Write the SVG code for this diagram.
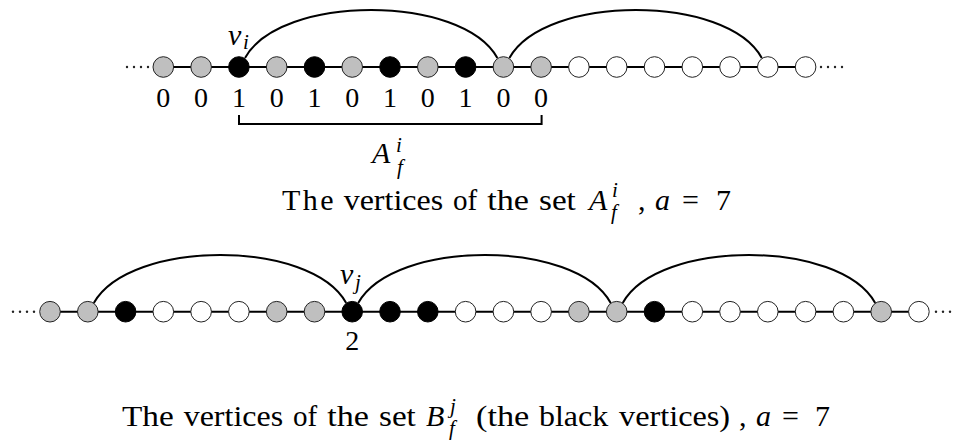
<svg xmlns="http://www.w3.org/2000/svg" width="953" height="441" viewBox="0 0 953 441">
<style>
.g{fill:#bfbfbf;stroke:#222;stroke-width:1}
.b{fill:#000;stroke:#000;stroke-width:1}
.w{fill:#fff;stroke:#222;stroke-width:1}
.edge{stroke:#000;stroke-width:2;fill:none}
.arc{stroke:#000;stroke-width:2;fill:none}
.dot{fill:#222}
text{font-family:"Liberation Serif","DejaVu Serif",serif;fill:#000}
.t{font-size:30px}
.m{font-size:30px;font-style:italic;font-family:"Liberation Serif","DejaVu Serif",serif}
.s{font-size:21px;font-style:italic;font-family:"Liberation Serif","DejaVu Serif",serif}
.d{font-size:28px;text-anchor:middle}
</style>
<rect width="953" height="441" fill="#fff"/>
<g id="connectors">
<line class="edge" x1="163.3" y1="67" x2="805.6" y2="67"/>
<line class="edge" x1="50" y1="311.7" x2="918.9" y2="311.7"/>
<path class="arc" d="M245 58 C280 -6 462 -6 497.4 58"/>
<path class="arc" d="M509.4 58 C545 -6 727 -6 761.8 58"/>
<path class="arc" d="M93.8 303 C130 239 311 239 346.2 303"/>
<path class="arc" d="M358.2 303 C394 239 576 239 610.7 303"/>
<path class="arc" d="M622.7 303 C658 239 840 239 875.2 303"/>
<path class="edge" d="M239 115 V124 H541.6 V115"/>
<g class="dot">
<circle cx="127" cy="67" r="1.2"/><circle cx="134" cy="67" r="1.2"/><circle cx="141" cy="67" r="1.2"/><circle cx="148" cy="67" r="1.2"/>
<circle cx="821" cy="67" r="1.2"/><circle cx="828" cy="67" r="1.2"/><circle cx="835" cy="67" r="1.2"/><circle cx="842" cy="67" r="1.2"/>
<circle cx="13" cy="311.7" r="1.2"/><circle cx="20" cy="311.7" r="1.2"/><circle cx="27" cy="311.7" r="1.2"/><circle cx="34" cy="311.7" r="1.2"/>
<circle cx="936" cy="311.7" r="1.2"/><circle cx="943" cy="311.7" r="1.2"/><circle cx="950" cy="311.7" r="1.2"/>
</g>
</g>
<g id="top-row">
<circle id="t3" class="g" cx="163.3" cy="67" r="10.3"/>
<circle id="t4" class="g" cx="201.1" cy="67" r="10.3"/>
<circle id="t5" class="b" cx="238.9" cy="67" r="10.3"/>
<circle id="t6" class="g" cx="276.7" cy="67" r="10.3"/>
<circle id="t7" class="b" cx="314.5" cy="67" r="10.3"/>
<circle id="t8" class="g" cx="352.2" cy="67" r="10.3"/>
<circle id="t9" class="b" cx="390" cy="67" r="10.3"/>
<circle id="t10" class="g" cx="427.8" cy="67" r="10.3"/>
<circle id="t11" class="b" cx="465.6" cy="67" r="10.3"/>
<circle id="t12" class="g" cx="503.4" cy="67" r="10.3"/>
<circle id="t13" class="g" cx="541.1" cy="67" r="10.3"/>
<circle id="t14" class="w" cx="578.9" cy="67" r="10.3"/>
<circle id="t15" class="w" cx="616.7" cy="67" r="10.3"/>
<circle id="t16" class="w" cx="654.5" cy="67" r="10.3"/>
<circle id="t17" class="w" cx="692.3" cy="67" r="10.3"/>
<circle id="t18" class="w" cx="730" cy="67" r="10.3"/>
<circle id="t19" class="w" cx="767.8" cy="67" r="10.3"/>
<circle id="t20" class="w" cx="805.6" cy="67" r="10.3"/>
</g>
<g id="top-labels">
<text class="m" x="228" y="45">v</text><text class="s" x="243" y="49">i</text>
<text class="d" x="163.3" y="107">0</text>
<text class="d" x="201.1" y="107">0</text>
<text class="d" x="238.9" y="107">1</text>
<text class="d" x="276.7" y="107">0</text>
<text class="d" x="314.5" y="107">1</text>
<text class="d" x="352.2" y="107">0</text>
<text class="d" x="390" y="107">1</text>
<text class="d" x="427.8" y="107">0</text>
<text class="d" x="465.6" y="107">1</text>
<text class="d" x="503.4" y="107">0</text>
<text class="d" x="541.1" y="107">0</text>
<text class="m" x="372" y="163">A</text><text class="s" x="396" y="152">i</text><text class="s" x="397" y="174">f</text>
</g>
<g id="caption1">
<text class="t" y="210" lengthAdjust="spacingAndGlyphs"><tspan x="282" textLength="51.7">The</tspan></text>
<text class="t" x="343.7" y="210" textLength="99.4" lengthAdjust="spacingAndGlyphs">vertices</text>
<text class="t" x="453.1" y="210" textLength="24.2" lengthAdjust="spacingAndGlyphs">of</text>
<text class="t" x="487.3" y="210" textLength="41.7" lengthAdjust="spacingAndGlyphs">the</text>
<text class="t" x="539" y="210" textLength="36.8" lengthAdjust="spacingAndGlyphs">set</text>
<text class="m" x="589" y="210">A</text><text class="s" x="612" y="197">i</text><text class="s" x="611" y="219">f</text>
<text class="t" x="638" y="210">,</text>
<text class="m" x="655" y="210">a</text>
<text class="t" x="682" y="210">=</text>
<text class="t" x="716" y="210">7</text>
</g>
<g id="bottom-row">
<circle id="b0" class="g" cx="50" cy="311.7" r="10.3"/>
<circle id="b1" class="g" cx="87.8" cy="311.7" r="10.3"/>
<circle id="b2" class="b" cx="125.6" cy="311.7" r="10.3"/>
<circle id="b3" class="w" cx="163.3" cy="311.7" r="10.3"/>
<circle id="b4" class="w" cx="201.1" cy="311.7" r="10.3"/>
<circle id="b5" class="w" cx="238.9" cy="311.7" r="10.3"/>
<circle id="b6" class="g" cx="276.7" cy="311.7" r="10.3"/>
<circle id="b7" class="g" cx="314.5" cy="311.7" r="10.3"/>
<circle id="b8" class="b" cx="352.2" cy="311.7" r="10.3"/>
<circle id="b9" class="b" cx="390" cy="311.7" r="10.3"/>
<circle id="b10" class="b" cx="427.8" cy="311.7" r="10.3"/>
<circle id="b11" class="w" cx="465.6" cy="311.7" r="10.3"/>
<circle id="b12" class="w" cx="503.4" cy="311.7" r="10.3"/>
<circle id="b13" class="w" cx="541.1" cy="311.7" r="10.3"/>
<circle id="b14" class="g" cx="578.9" cy="311.7" r="10.3"/>
<circle id="b15" class="g" cx="616.7" cy="311.7" r="10.3"/>
<circle id="b16" class="b" cx="654.5" cy="311.7" r="10.3"/>
<circle id="b17" class="w" cx="692.3" cy="311.7" r="10.3"/>
<circle id="b18" class="w" cx="730" cy="311.7" r="10.3"/>
<circle id="b19" class="w" cx="767.8" cy="311.7" r="10.3"/>
<circle id="b20" class="w" cx="805.6" cy="311.7" r="10.3"/>
<circle id="b21" class="w" cx="843.4" cy="311.7" r="10.3"/>
<circle id="b22" class="g" cx="881.2" cy="311.7" r="10.3"/>
<circle id="b23" class="w" cx="918.9" cy="311.7" r="10.3"/>
</g>
<g id="bottom-labels">
<text class="m" x="340" y="284">v</text><text class="s" x="355" y="289">j</text>
<text class="d" x="352.2" y="350">2</text>
</g>
<g id="caption2">
<text class="t" x="122" y="426" textLength="51.7" lengthAdjust="spacingAndGlyphs">The</text>
<text class="t" x="183.7" y="426" textLength="99.4" lengthAdjust="spacingAndGlyphs">vertices</text>
<text class="t" x="293.1" y="426" textLength="24.2" lengthAdjust="spacingAndGlyphs">of</text>
<text class="t" x="327.3" y="426" textLength="41.7" lengthAdjust="spacingAndGlyphs">the</text>
<text class="t" x="379" y="426" textLength="36.8" lengthAdjust="spacingAndGlyphs">set</text>
<text class="m" x="426" y="426">B</text><text class="s" x="450" y="413">j</text><text class="s" x="449" y="435">f</text>
<text class="t" x="476" y="426" textLength="53.3" lengthAdjust="spacingAndGlyphs">(the</text>
<text class="t" x="539" y="426" textLength="69.2" lengthAdjust="spacingAndGlyphs">black</text>
<text class="t" x="619" y="426" textLength="111.1" lengthAdjust="spacingAndGlyphs">vertices)</text>
<text class="t" x="739" y="426">,</text>
<text class="m" x="756" y="426">a</text>
<text class="t" x="782" y="426">=</text>
<text class="t" x="815" y="426">7</text>
</g>
</svg>
